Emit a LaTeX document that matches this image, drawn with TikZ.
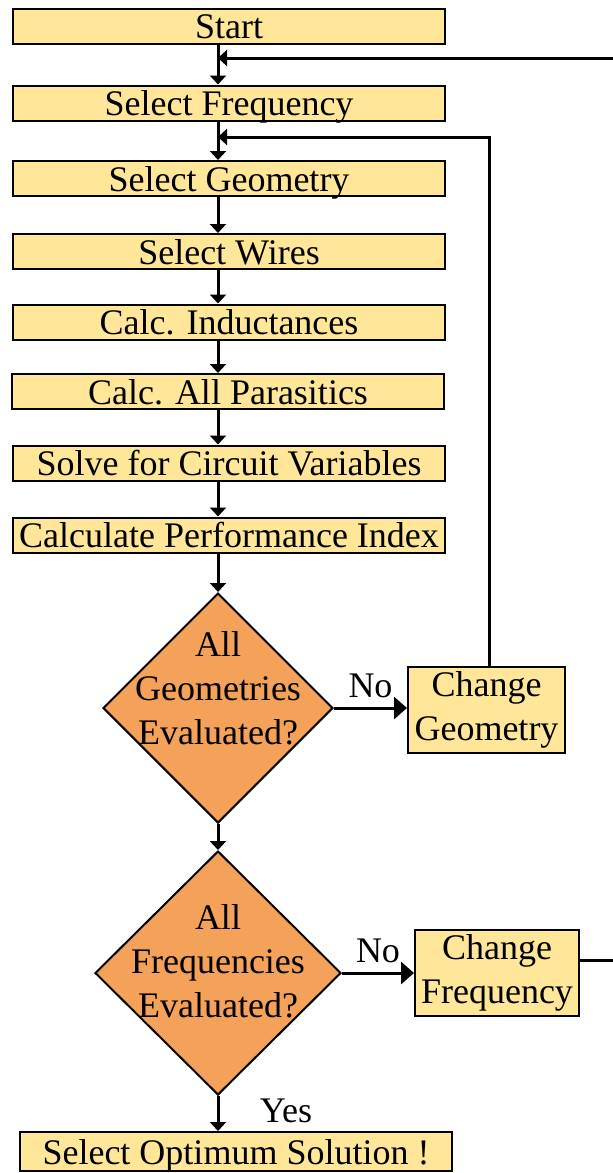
\documentclass[tikz,border=0pt]{standalone}
\usepackage{fontspec}
\setmainfont{Liberation Serif}
\usepackage{tikz}
\usetikzlibrary{arrows.meta,shapes.geometric}

\definecolor{boxfill}{HTML}{FFE699}
\definecolor{decfill}{HTML}{F4A15A}

\begin{document}
\begin{tikzpicture}[x=0.5pt,y=-0.5pt,
    font=\fontsize{18}{22}\selectfont,
    >={Triangle[length=4.5pt,width=8pt]},
    proc/.style={draw,line width=1pt,fill=boxfill,inner sep=0pt,
      minimum width=216pt,text height=15pt,text depth=2.5pt},
    side/.style={draw,line width=1pt,fill=boxfill,inner sep=0pt,
      align=center,minimum height=43pt},
    dec/.style={diamond,draw,line width=1pt,fill=decfill,inner sep=0pt},
    flow/.style={->,line width=1.5pt},
    bigtip/.style={-{Triangle[length=6.5pt,width=11pt]},line width=1.5pt}]

  \useasboundingbox (0,0) rectangle (613,1173);

  % Main column
  \coordinate (spine) at (218,0);
  \node[proc] (start) at (229,26)    {Start};
  \node[proc] (freq)  at (229,103)   {Select Frequency};
  \node[proc] (geom)  at (229,178.5) {Select Geometry};
  \node[proc] (wires) at (229,251.5) {Select Wires};
  \node[proc] (ind)   at (229,322)   {Calc. Inductances};
  \node[proc] (par)   at (228,391.5) {Calc. All Parasitics};
  \node[proc] (solve) at (229,463)   {Solve for Circuit Variables};
  \node[proc] (perf)  at (229,535)   {Calculate Performance Index};

  % Decisions
  \node[dec,minimum width=115pt,minimum height=115pt,
    label={[align=center,yshift=10pt]center:All\\Geometries\\Evaluated?}]
    (allgeo) at (218,708) {};
  \node[dec,minimum width=123pt,minimum height=122pt,
    label={[align=center,yshift=6pt]center:All\\Frequencies\\Evaluated?}]
    (allfreq) at (218,973) {};

  \node[proc,text height=16pt,text depth=3.5pt] (best) at (236,1151.5)
    {Select Optimum Solution !};

  % Side boxes
  \node[side,minimum width=78.5pt] (chgeo)  at (486.5,710) {Change\\Geometry};
  \node[side,minimum width=82pt]   (chfreq) at (497,972.5) {Change\\Frequency};

  \coordinate (rimlow) at (613,960);
  \coordinate (rimtop) at (613,58);
  \coordinate (loopgeo) at (489,137);

  % Straight run
  \draw[flow] (start.south -| spine) -- (freq.north -| spine);
  \draw[flow] (freq.south -| spine)  -- (geom.north -| spine);
  \draw[flow] (geom.south -| spine)  -- (wires.north -| spine);
  \draw[flow] (wires.south -| spine) -- (ind.north -| spine);
  \draw[flow] (ind.south -| spine)   -- (par.north -| spine);
  \draw[flow] (par.south -| spine)   -- (solve.north -| spine);
  \draw[flow] (solve.south -| spine) -- (perf.north -| spine);
  \draw[flow] (perf.south -| spine)  -- (allgeo.north);
  \draw[flow] (allgeo.south) -- (allfreq.north);
  \draw[flow] (allfreq.south) -- (best.north -| allfreq.south);

  % Branches
  \draw[bigtip] (allgeo.east) -- (chgeo.west |- allgeo.east)
    node[midway,above=1pt] {No};
  \draw[bigtip] (allfreq.east) -- (chfreq.west |- allfreq.east)
    node[midway,above=1pt] {No};
  \node (yes) at (286,1111) {Yes};

  % Loops back
  \draw[flow] (chgeo.north -| loopgeo) -- (loopgeo) -- (loopgeo -| spine);
  \draw[line width=1.5pt] (chfreq.east |- rimlow) -- (rimlow);
  \draw[flow] (rimtop) -- (rimtop -| spine);

\end{tikzpicture}
\end{document}
